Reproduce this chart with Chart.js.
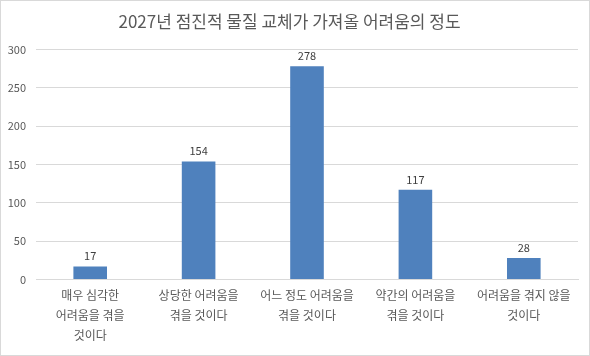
<!DOCTYPE html>
<html><head><meta charset="utf-8">
<script src="https://cdn.jsdelivr.net/npm/chart.js@4.4.0/dist/chart.umd.min.js"></script>
<style>
html,body{margin:0;padding:0;background:#fff;}
#wrap{position:absolute;left:0;top:0;width:588px;height:354px;border:1px solid #d9d9d9;}
</style></head><body>
<div id="wrap"><canvas id="c"></canvas></div>
<script>
const title = "2027년 점진적 물질 교체가 가져올 어려움의 정도";
const categories = [
  ["매우 심각한", "어려움을 겪을", "것이다"],
  ["상당한 어려움을", "겪을 것이다"],
  ["어느 정도 어려움을", "겪을 것이다"],
  ["약간의 어려움을", "겪을 것이다"],
  ["어려움을 겪지 않을", "것이다"]
];
const values = [17, 154, 278, 117, 28];
const yTicks = [0, 50, 100, 150, 200, 250, 300];
const FONT = "'Malgun Gothic','Noto Sans CJK KR','Noto Sans',sans-serif";

const labelPlugin = {
  id: 'barLabels',
  afterDatasetsDraw(chart) {
    const ctx = chart.ctx;
    const meta = chart.getDatasetMeta(0);
    ctx.save();
    ctx.font = "11px " + FONT;
    ctx.fillStyle = "#404040";
    ctx.textAlign = "center";
    ctx.textBaseline = "bottom";
    meta.data.forEach((bar, i) => {
      ctx.fillText(String(values[i]), bar.x, bar.y - 5);
    });
    ctx.restore();
  }
};

new Chart(document.getElementById('c'), {
  type: 'bar',
  data: {
    labels: categories,
    datasets: [{
      data: values,
      backgroundColor: '#4f81bd',
      categoryPercentage: 1.0,
      barPercentage: 0.31
    }]
  },
  options: {
    responsive: true,
    maintainAspectRatio: false,
    animation: false,
    layout: { padding: { left: 0, right: 11, top: 8, bottom: 4 } },
    plugins: {
      legend: { display: false },
      tooltip: { enabled: false },
      title: {
        display: true,
        text: title,
        color: '#595959',
        font: { size: 17, family: FONT, weight: 'normal' },
        padding: { top: 2, bottom: 18 }
      }
    },
    scales: {
      x: {
        grid: { display: false, drawTicks: false },
        border: { display: true, color: '#d9d9d9' },
        ticks: {
          color: '#595959',
          font: { size: 12, family: FONT, lineHeight: 1.65 },
          maxRotation: 0,
          autoSkip: false,
          padding: 6
        }
      },
      y: {
        min: 0,
        max: 300,
        afterBuildTicks(axis) { axis.ticks = yTicks.map(v => ({ value: v })); },
        afterFit(axis) { axis.width = 35; },
        grid: { color: '#d9d9d9', drawTicks: false },
        border: { display: false },
        ticks: {
          color: '#595959',
          font: { size: 11, family: FONT },
          padding: 10
        }
      }
    }
  },
  plugins: [labelPlugin]
});
</script>
</body></html>
